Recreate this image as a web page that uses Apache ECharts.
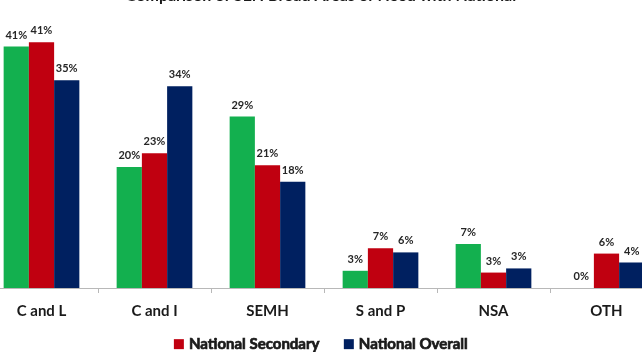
<!DOCTYPE html>
<html>
<head>
<meta charset="utf-8">
<script src="https://cdn.jsdelivr.net/npm/echarts@6/dist/echarts.min.js"></script>
<style>
  html, body { margin: 0; padding: 0; background: #ffffff; }
  #chart { width: 642px; height: 352px; }
</style>
</head>
<body>
<div id="chart"></div>
<script>
// Areas of need (x categories)
const categories = ['C and L', 'C and I', 'SEMH', 'S and P', 'NSA', 'OTH'];

// Percentages per series
const schoolValues    = [40.7, 20.4, 28.9, 2.9, 7.4, 0];
const secondaryValues = [41.4, 22.7, 20.7, 6.7, 2.6, 5.8];
const overallValues   = [35.0, 34.0, 17.9, 6.0, 3.3, 4.3];

const seriesNames = ['School', 'National Secondary', 'National Overall'];
const seriesColors = ['#13b04f', '#c00010', '#002060'];
const seriesData = [schoolValues, secondaryValues, overallValues];

const fontFamily = 'Lato, "Open Sans", sans-serif';

const chart = echarts.init(document.getElementById('chart'), null, { renderer: 'canvas' });

chart.setOption({
  animation: false,
  backgroundColor: '#ffffff',
  title: {
    text: 'Comparison of SEN Broad Areas of Need with National',
    left: 'center',
    top: -17,
    textStyle: { fontFamily, fontWeight: 'bold', fontSize: 16, color: '#1a1a1a' }
  },
  legend: {
    data: ['National Secondary', 'National Overall'],
    bottom: -5,
    left: 'center',
    itemWidth: 10,
    itemHeight: 10,
    itemGap: 24,
    icon: 'rect',
    textStyle: {
      fontFamily, fontWeight: 'bold', fontSize: 15, color: '#1a1a1a',
      textBorderColor: '#1a1a1a', textBorderWidth: 0.7
    }
  },
  grid: { left: -15, width: 678, top: 21, height: 267, containLabel: false, outerBoundsMode: 'none' },
  xAxis: {
    type: 'category',
    data: categories,
    axisLine: { lineStyle: { color: '#b8b8b8', width: 1 } },
    axisTick: { show: true, length: 5, lineStyle: { color: '#b8b8b8' } },
    axisLabel: { fontFamily, fontWeight: 'bold', fontSize: 15, color: '#1a1a1a', margin: 16 }
  },
  yAxis: {
    type: 'value', min: 0, max: 45, show: false, splitLine: { show: false }
  },
  series: seriesData.map((values, i) => ({
    name: seriesNames[i],
    type: 'bar',
    data: values,
    barGap: '0%',
    barCategoryGap: '33%',
    itemStyle: { color: seriesColors[i] },
    label: {
      show: true,
      position: 'top',
      distance: 6,
      formatter: p => Math.round(p.value) + '%',
      fontFamily,
      fontWeight: 'bold',
      fontSize: 11,
      color: '#262626'
    }
  }))
});
</script>
</body>
</html>
